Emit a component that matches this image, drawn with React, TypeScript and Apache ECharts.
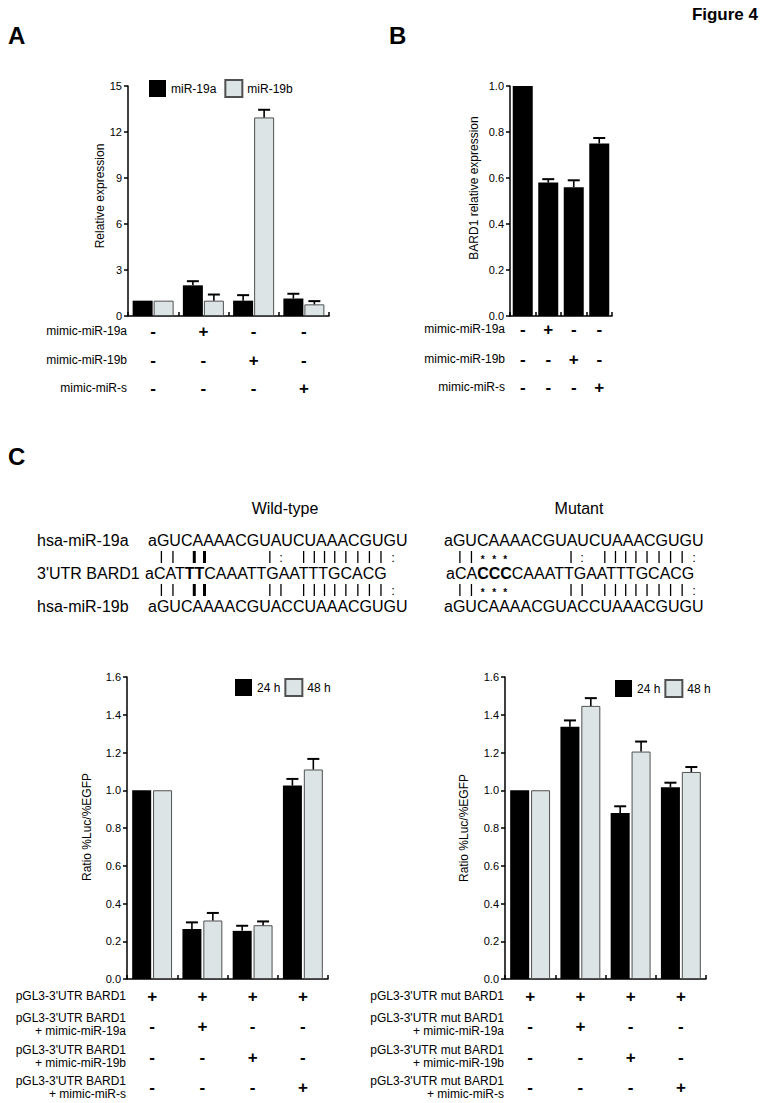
import React, { useEffect, useRef } from 'react';
import * as echarts from 'echarts';

const FF = '"Liberation Sans", Arial, Helvetica, sans-serif';

// ---------- Panel A ----------
const groups = ['g1', 'g2', 'g3', 'g4'];
const miR19aVals = [1.0, 2.0, 1.0, 1.14];
const miR19aErr = [0, 0.27, 0.36, 0.31];
const miR19bVals = [1.0, 1.0, 12.95, 0.76];
const miR19bErr = [0, 0.4, 0.5, 0.21];
const rowsA = ['mimic-miR-19a', 'mimic-miR-19b', 'mimic-miR-s'];
const signsA = [
  ['-', '+', '-', '-'],
  ['-', '-', '+', '-'],
  ['-', '-', '-', '+'],
];

// ---------- Panel B ----------
const bard1Vals = [1.0, 0.58, 0.56, 0.75];
const bard1Err = [0, 0.015, 0.03, 0.024];

// ---------- Panel C ----------
const wt24Vals = [1.0, 0.265, 0.255, 1.025];
const wt24Err = [0, 0.035, 0.027, 0.035];
const wt48Vals = [1.0, 0.31, 0.285, 1.11];
const wt48Err = [0, 0.04, 0.02, 0.056];
const mut24Vals = [1.0, 1.337, 0.88, 1.016];
const mut24Err = [0, 0.033, 0.035, 0.024];
const mut48Vals = [1.0, 1.447, 1.205, 1.097];
const mut48Err = [0, 0.041, 0.053, 0.026];

const rowsCL = [
  "pGL3-3'UTR BARD1",
  "pGL3-3'UTR BARD1\n+ mimic-miR-19a",
  "pGL3-3'UTR BARD1\n+ mimic-miR-19b",
  "pGL3-3'UTR BARD1\n+ mimic-miR-s",
];
const rowsCR = [
  "pGL3-3'UTR mut BARD1",
  "pGL3-3'UTR mut BARD1\n+ mimic-miR-19a",
  "pGL3-3'UTR mut BARD1\n+ mimic-miR-19b",
  "pGL3-3'UTR mut BARD1\n+ mimic-miR-s",
];
const signsC = [
  ['+', '+', '+', '+'],
  ['-', '+', '-', '-'],
  ['-', '-', '+', '-'],
  ['-', '-', '-', '+'],
];

// ---------- Sequences ----------
const seqMiR19a = 'aGUCAAAACGUAUCUAAACGUGU';
const seqUtrWT = 'aCATTTCAAATTGAATTTGCACG';
const seqUtrMut = 'aCACCCCAAATTGAATTTGCACG';
const seqMiR19b = 'aGUCAAAACGUACCUAAACGUGU';
const boldWT = [4, 5];
const boldMut = [3, 4, 5];
const pairWTa = ' || II     |: ||||||||:';
const pairWTb = ' || II     || ||||||||:';
const pairMuta = ' ||***     |: ||||||||:';
const pairMutb = ' ||***     || ||||||||:';

const T = (x: number, y: number, text: string, o: any = {}) => {
  const style: any = {
    text,
    fill: '#000',
    fontFamily: FF,
    fontSize: o.size || 12,
    fontWeight: o.weight || 'normal',
    align: o.align || 'left',
    textAlign: o.align || 'left',
    verticalAlign: 'middle',
    textVerticalAlign: 'middle',
  };
  if (o.lh) style.lineHeight = o.lh;
  if (o.rich) style.rich = o.rich;
  return { type: 'text', x, y, rotation: o.rotation || 0, silent: true, z: 10, style };
};

const errData = (vals: number[], errs: number[]) => vals.map((v, i) => [i, v, errs[i]]);

const errRender = (offset: number) => (params: any, api: any) => {
  const i = api.value(0);
  const v = api.value(1);
  const e = api.value(2);
  if (!e) return { type: 'group', children: [] };
  const p0 = api.coord([i, v]);
  const p1 = api.coord([i, v + e]);
  const x = p0[0] + offset;
  return {
    type: 'group',
    children: [
      { type: 'line', shape: { x1: x, y1: p0[1], x2: x, y2: p1[1] }, style: { stroke: '#000', lineWidth: 1.6 } },
      { type: 'line', shape: { x1: x - 6, y1: p1[1], x2: x + 6, y2: p1[1] }, style: { stroke: '#000', lineWidth: 2 } },
    ],
  };
};

const LIGHT = '#dce4e6';
const LIGHT_BORDER = '#505050';

export default function App() {
  const ref = useRef<HTMLDivElement>(null);
  useEffect(() => {
    if (!ref.current) return;
    const chart = echarts.init(ref.current, undefined, { renderer: 'svg' });

    const ctx = document.createElement('canvas').getContext('2d')!;
    const SEQ = 16;
    const centers = (seq: string, x0: number, bold: number[]) => {
      let x = x0;
      const out: number[] = [];
      for (let i = 0; i < seq.length; i++) {
        ctx.font = `${bold.includes(i) ? 'bold ' : ''}${SEQ}px ${FF}`;
        const w = ctx.measureText(seq[i]).width;
        out.push(x + w / 2);
        x += w;
      }
      return out;
    };
    const richText = (seq: string, bold: number[]) => {
      let s = '';
      let i = 0;
      while (i < seq.length) {
        if (bold.includes(i)) {
          let j = i;
          while (j < seq.length && bold.includes(j)) j++;
          s += `{b|${seq.slice(i, j)}}`;
          i = j;
        } else {
          let j = i;
          while (j < seq.length && !bold.includes(j)) j++;
          s += seq.slice(i, j);
          i = j;
        }
      }
      return s;
    };

    const graphics: any[] = [];
    // Panel letters & title
    graphics.push(T(8, 35, 'A', { size: 24, weight: 'bold' }));
    graphics.push(T(389, 35, 'B', { size: 24, weight: 'bold' }));
    graphics.push(T(8, 456, 'C', { size: 24, weight: 'bold' }));
    graphics.push(T(758, 14, 'Figure 4', { size: 17, weight: 'bold', align: 'right' }));

    // Axis names
    graphics.push(T(100, 196, 'Relative expression', { size: 12, align: 'center', rotation: Math.PI / 2 }));
    graphics.push(T(474, 188, 'BARD1 relative expression', { size: 12, align: 'center', rotation: Math.PI / 2 }));
    graphics.push(T(87, 827, 'Ratio %Luc/%EGFP', { size: 12, align: 'center', rotation: Math.PI / 2 }));
    graphics.push(T(464, 828, 'Ratio %Luc/%EGFP', { size: 12, align: 'center', rotation: Math.PI / 2 }));

    const sign = (x: number, y: number, s: string) =>
      T(x, y, s, { size: 17, weight: 'bold', align: 'center' });

    // Panel A rows
    const rowYA = [331, 360, 388];
    rowsA.forEach((r, k) => {
      graphics.push(T(127, rowYA[k], r, { size: 12, align: 'right' }));
      signsA[k].forEach((s, i) => graphics.push(sign(128 + (i + 0.5) * 201 / 4, rowYA[k], s)));
    });
    // Panel B rows
    const rowYB = [329, 359, 387];
    rowsA.forEach((r, k) => {
      graphics.push(T(505, rowYB[k], r, { size: 12, align: 'right' }));
      signsA[k].forEach((s, i) => graphics.push(sign(510 + (i + 0.5) * 102 / 4, rowYB[k], s)));
    });
    // Panel C rows
    const labelYC = [996, 1024.5, 1056, 1087.5];
    const signYC = [996, 1026, 1057, 1087];
    rowsCL.forEach((r, k) => {
      graphics.push(T(126, labelYC[k], r, { size: 12, align: 'right', lh: 13 }));
      signsC[k].forEach((s, i) => graphics.push(sign(127 + (i + 0.5) * 201 / 4, signYC[k], s)));
    });
    rowsCR.forEach((r, k) => {
      graphics.push(T(504, labelYC[k], r, { size: 12, align: 'right', lh: 13 }));
      signsC[k].forEach((s, i) => graphics.push(sign(505 + (i + 0.5) * 201 / 4, signYC[k], s)));
    });

    // Sequences
    graphics.push(T(285, 508, 'Wild-type', { size: 16, align: 'center' }));
    graphics.push(T(579, 508, 'Mutant', { size: 16, align: 'center' }));
    const yTop = 540, yMid = 573, yBot = 606, yP1 = 557, yP2 = 590;
    graphics.push(T(37, yTop, 'hsa-miR-19a', { size: 16 }));
    graphics.push(T(37, yMid, "3'UTR BARD1", { size: 16 }));
    graphics.push(T(37, yBot, 'hsa-miR-19b', { size: 16 }));

    const blocks = [
      { x0: 148, xm: 145, utr: seqUtrWT, bold: boldWT, pa: pairWTa, pb: pairWTb },
      { x0: 444, xm: 446, utr: seqUtrMut, bold: boldMut, pa: pairMuta, pb: pairMutb },
    ];
    const richB = { b: { fontWeight: 'bold', fontSize: SEQ, fontFamily: FF, fill: '#000' } };
    blocks.forEach((b) => {
      graphics.push(T(b.x0, yTop, seqMiR19a, { size: SEQ }));
      graphics.push(T(b.xm, yMid, richText(b.utr, b.bold), { size: SEQ, rich: richB }));
      graphics.push(T(b.x0, yBot, seqMiR19b, { size: SEQ }));
      const cTop = centers(seqMiR19a, b.x0, []);
      const cMid = centers(b.utr, b.xm, b.bold);
      const cBot = centers(seqMiR19b, b.x0, []);
      const drawPairs = (pairs: string, cA: number[], cB: number[], y: number) => {
        for (let i = 0; i < pairs.length; i++) {
          const s = pairs[i];
          if (s === ' ') continue;
          const x = (cA[i] + cB[i]) / 2;
          if (s === '|' || s === 'I') {
            graphics.push({
              type: 'line', silent: true, z: 10,
              shape: { x1: x, y1: y - 6, x2: x, y2: y + 6 },
              style: { stroke: '#000', lineWidth: s === 'I' ? 3 : 1.3 },
            });
          } else if (s === ':') {
            graphics.push(T(x, y, ':', { size: 13, align: 'center' }));
          } else if (s === '*') {
            graphics.push(T(x, y + 2, '*', { size: 10, weight: 'bold', align: 'center' }));
          }
        }
      };
      drawPairs(b.pa, cTop, cMid, yP1);
      drawPairs(b.pb, cMid, cBot, yP2);
    });

    const axisLine = { show: true, lineStyle: { color: '#000', width: 1.5 } };
    const xAx = (gi: number) => ({
      type: 'category', gridIndex: gi, data: groups, boundaryGap: true,
      axisLine, axisTick: { show: true, inside: true, length: 4, lineStyle: { color: '#000', width: 1.5 } },
      axisLabel: { show: false }, splitLine: { show: false },
    });
    const yAx = (gi: number, max: number, interval: number, dec: number) => ({
      type: 'value', gridIndex: gi, min: 0, max, interval,
      axisLine, axisTick: { show: true, inside: false, length: 4, lineStyle: { color: '#000', width: 1.5 } },
      splitLine: { show: false },
      axisLabel: { color: '#000', fontSize: 11, fontFamily: FF, margin: 6, formatter: (v: number) => v.toFixed(dec) },
    });

    const blackBar = { color: '#000' };
    const lightBar = { color: LIGHT, borderColor: LIGHT_BORDER, borderWidth: 1 };
    const legendBase = {
      itemWidth: 17, itemHeight: 17, icon: 'rect', padding: 0, selectedMode: false,
      textStyle: { fontSize: 12, color: '#000', fontFamily: FF },
    };

    const option: any = {
      animation: false,
      textStyle: { fontFamily: FF, color: '#000' },
      grid: [
        { left: 128, top: 86, width: 201, height: 230 },
        { left: 510, top: 86, width: 102, height: 230 },
        { left: 127, top: 677, width: 201, height: 302 },
        { left: 505, top: 677, width: 201, height: 302 },
      ],
      xAxis: [xAx(0), xAx(1), xAx(2), xAx(3)],
      yAxis: [yAx(0, 15, 3, 0), yAx(1, 1.0, 0.2, 1), yAx(2, 1.6, 0.2, 1), yAx(3, 1.6, 0.2, 1)],
      legend: [
        { ...legendBase, left: 149, top: 79, itemGap: 8, data: ['miR-19a', 'miR-19b'] },
        { ...legendBase, left: 235, top: 678, itemGap: 4, data: ['24 h', '48 h'] },
        { ...legendBase, left: 615, top: 679, itemGap: 4, data: ['24 h', '48 h'] },
      ],
      series: [
        { name: 'miR-19a', type: 'bar', xAxisIndex: 0, yAxisIndex: 0, data: miR19aVals, barWidth: 20, barGap: '5%', itemStyle: blackBar },
        { name: 'miR-19b', type: 'bar', xAxisIndex: 0, yAxisIndex: 0, data: miR19bVals, barWidth: 20, barGap: '5%', itemStyle: lightBar },
        { type: 'custom', xAxisIndex: 0, yAxisIndex: 0, data: errData(miR19aVals, miR19aErr), renderItem: errRender(-10.5), z: 5 },
        { type: 'custom', xAxisIndex: 0, yAxisIndex: 0, data: errData(miR19bVals, miR19bErr), renderItem: errRender(10.5), z: 5 },

        { name: 'BARD1', type: 'bar', xAxisIndex: 1, yAxisIndex: 1, data: bard1Vals, barWidth: 20, itemStyle: blackBar },
        { type: 'custom', xAxisIndex: 1, yAxisIndex: 1, data: errData(bard1Vals, bard1Err), renderItem: errRender(0), z: 5 },

        { name: '24 h', type: 'bar', xAxisIndex: 2, yAxisIndex: 2, data: wt24Vals, barWidth: 19, barGap: '10%', itemStyle: blackBar },
        { name: '48 h', type: 'bar', xAxisIndex: 2, yAxisIndex: 2, data: wt48Vals, barWidth: 19, barGap: '10%', itemStyle: lightBar },
        { type: 'custom', xAxisIndex: 2, yAxisIndex: 2, data: errData(wt24Vals, wt24Err), renderItem: errRender(-10.45), z: 5 },
        { type: 'custom', xAxisIndex: 2, yAxisIndex: 2, data: errData(wt48Vals, wt48Err), renderItem: errRender(10.45), z: 5 },

        { name: '24 h', type: 'bar', xAxisIndex: 3, yAxisIndex: 3, data: mut24Vals, barWidth: 19, barGap: '10%', itemStyle: blackBar },
        { name: '48 h', type: 'bar', xAxisIndex: 3, yAxisIndex: 3, data: mut48Vals, barWidth: 19, barGap: '10%', itemStyle: lightBar },
        { type: 'custom', xAxisIndex: 3, yAxisIndex: 3, data: errData(mut24Vals, mut24Err), renderItem: errRender(-10.45), z: 5 },
        { type: 'custom', xAxisIndex: 3, yAxisIndex: 3, data: errData(mut48Vals, mut48Err), renderItem: errRender(10.45), z: 5 },
      ],
      graphic: { elements: graphics },
    };
    chart.setOption(option);
    return () => chart.dispose();
  }, []);

  return (
    <div
      ref={ref}
      style={{ position: 'absolute', left: 0, top: 0, width: 766, height: 1103, background: '#fff' }}
    />
  );
}
